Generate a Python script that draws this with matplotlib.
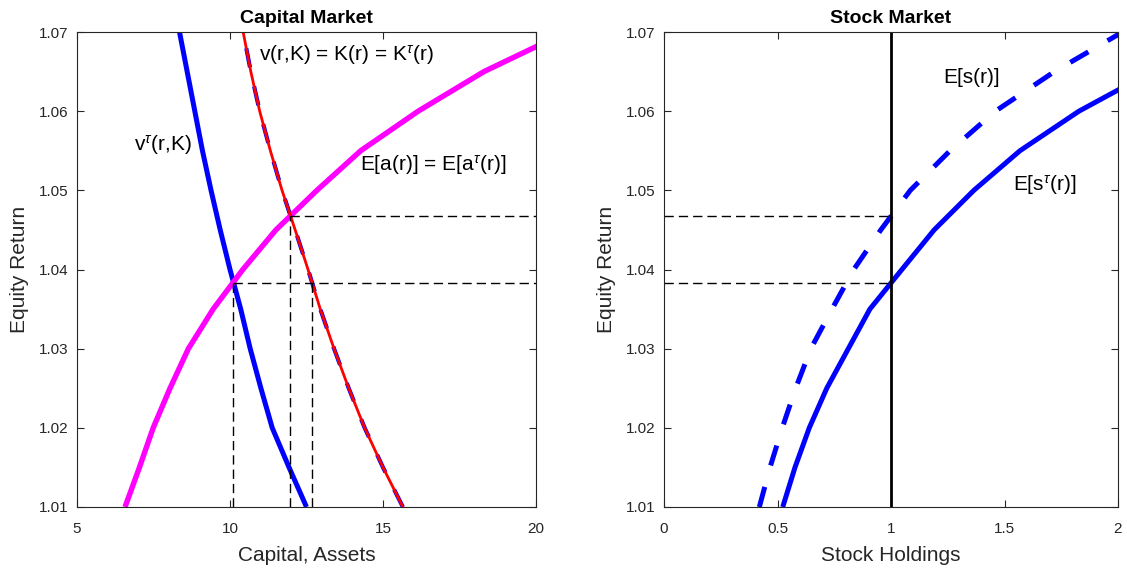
import numpy as np
import matplotlib
matplotlib.use("Agg")
import matplotlib.pyplot as plt

plt.rcParams['font.family'] = ['Liberation Sans', 'DejaVu Sans']
plt.rcParams['mathtext.fontset'] = 'custom'
plt.rcParams['mathtext.it'] = 'Liberation Sans:italic'
plt.rcParams['mathtext.rm'] = 'Liberation Sans'
plt.rcParams['lines.scale_dashes'] = False

# Equity return grid
r = [1.010, 1.015, 1.020, 1.025, 1.030, 1.035, 1.040, 1.045, 1.050, 1.055, 1.060, 1.065, 1.070]

# Capital market
v_tau = [12.50, 11.93, 11.38, 11.01, 10.66, 10.35, 10.00, 9.68, 9.38, 9.10, 8.85, 8.60, 8.35]
K_r = [15.65, 15.00, 14.40, 13.88, 13.40, 12.95, 12.55, 12.13, 11.70, 11.32, 10.97, 10.68, 10.43]
Ea_r = [6.57, 7.04, 7.49, 8.04, 8.64, 9.45, 10.42, 11.50, 12.84, 14.27, 16.15, 18.30, 21.00]

# Stock market
Es_r = [0.42, 0.467, 0.521, 0.58, 0.647, 0.74, 0.836, 0.955, 1.085, 1.26, 1.46, 1.72, 2.02]
Es_tau = [0.523, 0.577, 0.64, 0.717, 0.812, 0.907, 1.048, 1.19, 1.365, 1.568, 1.828, 2.15, 2.50]

# Equilibrium returns and quantities
r_eq = 1.0467      # E[a(r)] = K(r)
r_tau = 1.0383     # E[a(r)] = v^tau(r,K)
K_eq = 11.97
K_tau = 10.11
K_at_rtau = 12.68

cap_xticks = [5, 10, 15, 20]
stk_xticks = [0, 0.5, 1, 1.5, 2]
yticks = [1.01, 1.02, 1.03, 1.04, 1.05, 1.06, 1.07]

W, H = 1127, 572
fig = plt.figure(figsize=(W / 100, H / 100), dpi=100)
ax1 = fig.add_axes([77 / W, 1 - 507 / H, 459 / W, 475 / H])
ax2 = fig.add_axes([664 / W, 1 - 507 / H, 454 / W, 475 / H])

axcol = (0.15, 0.15, 0.15)
dash_thin = dict(color='black', lw=1.0, linestyle=(0, (6.7, 3.6)))

def style(ax, xlim, xticks, xlabel, title):
    ax.set_xlim(*xlim)
    ax.set_ylim(1.01, 1.07)
    ax.set_xticks(xticks)
    ax.set_xticklabels([f"{t:g}" for t in xticks])
    ax.set_yticks(yticks)
    ax.set_yticklabels([f"{t:.2f}" for t in yticks])
    ax.tick_params(direction='in', top=True, right=True, length=5, width=0.8,
                   colors=axcol, labelsize=11, labelcolor=axcol)
    ax.tick_params(axis='x', pad=10.5)
    ax.tick_params(axis='y', pad=6)
    for s in ax.spines.values():
        s.set_color(axcol)
        s.set_linewidth(0.8)
    ax.set_xlabel(xlabel, fontsize=15, color=axcol, labelpad=7.3)
    ax.set_ylabel('Equity Return', fontsize=15, color=axcol, labelpad=7.5)
    ax.set_title(title, fontsize=14, fontweight='bold', pad=6.5)

# ---- Capital market ----
ax1.plot(v_tau, r, color='blue', lw=3.6, solid_capstyle='butt')
ax1.plot(K_r, r, color='blue', lw=3.0, linestyle=(0, (14, 14)))
ax1.plot(Ea_r, r, color='magenta', lw=3.9, solid_capstyle='butt')
ax1.plot(K_r, r, color='red', lw=2.0)

ax1.plot([K_eq, 20], [r_eq, r_eq], **dash_thin)
ax1.plot([K_tau, 20], [r_tau, r_tau], **dash_thin)
ax1.plot([K_tau, K_tau], [1.01, r_tau], **dash_thin)
ax1.plot([K_eq, K_eq], [1.01, r_eq], **dash_thin)
ax1.plot([K_at_rtau, K_at_rtau], [1.01, r_tau], **dash_thin)

ax1.text(10.95, 1.0671, r'v(r,K) = K(r) = K$^{\tau}$(r)', fontsize=15, va='center')
ax1.text(6.86, 1.0557, r'v$^{\tau}$(r,K)', fontsize=15, va='center')
ax1.text(14.25, 1.0532, r'E[a(r)] = E[a$^{\tau}$(r)]', fontsize=15, va='center')
style(ax1, (5, 20), cap_xticks, 'Capital, Assets', 'Capital Market')

# ---- Stock market ----
ax2.plot(Es_r, r, color='blue', lw=3.6, linestyle=(0, (15, 16)), dash_capstyle='butt')
ax2.plot(Es_tau, r, color='blue', lw=3.6, solid_capstyle='butt')
ax2.plot([1, 1], [1.01, 1.07], color='black', lw=2.0)
ax2.plot([0, 1], [r_eq, r_eq], **dash_thin)
ax2.plot([0, 1], [r_tau, r_tau], **dash_thin)

ax2.text(1.229, 1.0642, 'E[s(r)]', fontsize=15, va='center')
ax2.text(1.537, 1.0507, r'E[s$^{\tau}$(r)]', fontsize=15, va='center')
style(ax2, (0, 2), stk_xticks, 'Stock Holdings', 'Stock Market')

fig.savefig('out.png', dpi=100)
